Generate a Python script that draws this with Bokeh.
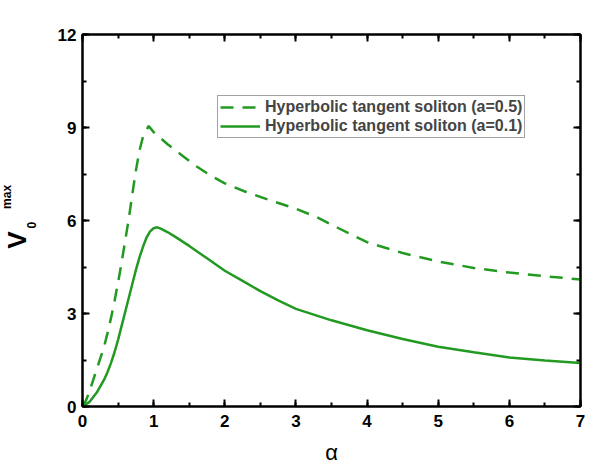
from bokeh.plotting import figure
from bokeh.models import (Range1d, LinearAxis, SingleIntervalTicker, Legend, LegendItem,
                          CustomJSTickFormatter)
from bokeh.layouts import row
from bokeh.core.properties import value
from bokeh.embed import file_html
from bokeh.resources import INLINE
import math

# --- data ---
alpha_a05 = [0, 0.05, 0.1, 0.15, 0.2, 0.25, 0.3, 0.35, 0.4, 0.45, 0.5, 0.55, 0.6, 0.65, 0.7, 0.75,
             0.8, 0.85, 0.93, 1.0, 1.2, 1.4, 1.6, 1.8, 2.0, 2.3, 2.6, 3.0, 3.3, 3.6, 4.0, 4.5,
             5.0, 5.5, 6.0, 6.5, 7.0]
v_a05 = [0, 0.2, 0.5, 0.85, 1.2, 1.55, 1.9, 2.35, 2.85, 3.4, 4.0, 4.65, 5.35, 6.05, 6.85, 7.6,
         8.25, 8.7, 9.05, 8.85, 8.45, 8.1, 7.75, 7.45, 7.2, 6.92, 6.68, 6.38, 6.1, 5.75, 5.3, 4.95,
         4.68, 4.47, 4.32, 4.2, 4.1]

alpha_a01 = [0, 0.1, 0.2, 0.3, 0.35, 0.4, 0.45, 0.5, 0.55, 0.6, 0.65, 0.7, 0.75, 0.8, 0.85, 0.9,
             0.95, 1.0, 1.05, 1.1, 1.2, 1.3, 1.5, 1.75, 2.0, 2.25, 2.5, 2.75, 3.0, 3.5, 4.0, 4.5,
             5.0, 5.5, 6.0, 6.5, 7.0]
v_a01 = [0, 0.15, 0.45, 0.85, 1.1, 1.4, 1.75, 2.15, 2.6, 3.05, 3.5, 3.95, 4.4, 4.8, 5.15, 5.45,
         5.65, 5.75, 5.78, 5.74, 5.62, 5.48, 5.18, 4.78, 4.38, 4.05, 3.72, 3.42, 3.15, 2.78, 2.46,
         2.18, 1.93, 1.75, 1.58, 1.48, 1.4]

labels = ["Hyperbolic tangent soliton (a=0.5)", "Hyperbolic tangent soliton (a=0.1)"]
y_label_parts = ["V", "0", "max"]
x_ticks_interval = 1
y_ticks_interval = 3

GREEN = "#229a22"
FONT = "Liberation Sans"
W, H = 589, 474
LEFT_W = 40

# ---------------- main plot ----------------
p = figure(frame_width=498, frame_height=372, output_backend="svg", toolbar_location=None,
           x_range=Range1d(0, 7), y_range=Range1d(0, 12),
           x_axis_location=None, y_axis_location=None,
           min_border_left=82 - LEFT_W, min_border_right=9, min_border_top=34, min_border_bottom=68)
p.background_fill_color = "white"
p.border_fill_color = "white"
p.outline_line_color = "black"
p.outline_line_width = 2
p.xgrid.visible = False
p.ygrid.visible = False


def make_axis(kind, show_labels):
    ticker = SingleIntervalTicker(interval=x_ticks_interval if kind == "x" else y_ticks_interval,
                                  num_minor_ticks=2)
    ax = LinearAxis(ticker=ticker)
    ax.axis_line_color = "black"
    ax.axis_line_width = 2
    ax.major_tick_in = 7
    ax.major_tick_out = 0
    ax.minor_tick_in = 4
    ax.minor_tick_out = 0
    ax.major_tick_line_width = 2
    ax.minor_tick_line_width = 2
    ax.major_tick_line_color = "black"
    ax.minor_tick_line_color = "black"
    if show_labels:
        ax.major_label_text_font = FONT
        ax.major_label_text_font_style = "bold"
        ax.major_label_text_font_size = "17px"
        ax.major_label_text_color = "black"
    else:
        ax.formatter = CustomJSTickFormatter(code="return ''")
        ax.major_label_standoff = 0
    return ax

xb = make_axis("x", True)
xb.major_label_standoff = 8
xb.axis_label = "α"
xb.axis_label_text_font = FONT
xb.axis_label_text_font_style = "normal"
xb.axis_label_text_font_size = "22px"
xb.axis_label_text_color = "black"
xb.axis_label_standoff = 10
p.add_layout(xb, "below")

yl = make_axis("y", True)
yl.major_label_standoff = 6
p.add_layout(yl, "left")

p.add_layout(make_axis("x", False), "above")
p.add_layout(make_axis("y", False), "right")

r1 = p.line(alpha_a05, v_a05, line_color=GREEN, line_width=2.5, line_dash="13 9")
r2 = p.line(alpha_a01, v_a01, line_color=GREEN, line_width=2.5)

legend = Legend(items=[LegendItem(label=labels[0], renderers=[r1]),
                       LegendItem(label=labels[1], renderers=[r2])],
                location=(135, 268), margin=0, padding=2, spacing=1,
                glyph_width=40, glyph_height=18, label_height=18, label_standoff=5,
                label_text_font=FONT, label_text_font_style="bold", label_text_font_size="16px",
                border_line_color="#444444", border_line_width=1.5,
                background_fill_color="white", background_fill_alpha=1)
p.add_layout(legend, "center")

# ---------------- strip holding the rotated y-axis title V_0^max ----------------
lab = figure(width=LEFT_W, height=H, output_backend="svg", toolbar_location=None,
             x_range=Range1d(0, LEFT_W), y_range=Range1d(0, H),
             x_axis_location=None, y_axis_location=None, min_border=0)
lab.outline_line_color = None
lab.xgrid.visible = False
lab.ygrid.visible = False
lab.border_fill_color = "white"
lab.background_fill_color = "white"

# (text, centre x px, centre y px from top, size)
for txt, cx, cy, size in [(y_label_parts[0], 16, 262, "26px"),
                          (y_label_parts[1], 31, 243, "12px"),
                          (y_label_parts[2], 6, 207, "12px")]:
    lab.text(x=[cx], y=[H - cy], text=[txt], angle=math.pi / 2,
             text_align="center", text_baseline="middle",
             text_font=value(FONT), text_font_style="bold", text_font_size=size,
             text_color="black")

layout = row(lab, p, spacing=0)
open("out.html", "w").write(file_html(layout, INLINE))
